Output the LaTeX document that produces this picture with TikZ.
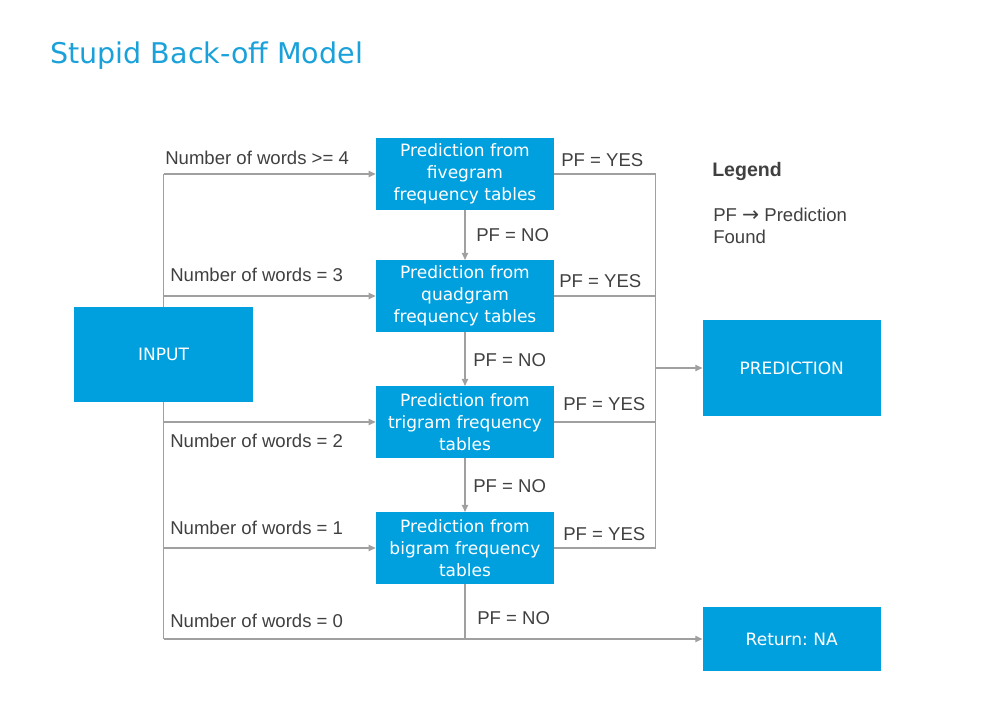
\documentclass[tikz,border=0pt]{standalone}
\usepackage{fontspec}
\setmainfont{Liberation Sans}
\newfontfamily\boxfont{DejaVu Sans}
\usetikzlibrary{arrows.meta}
\definecolor{boxblue}{HTML}{00A0DE}
\definecolor{titleblue}{HTML}{1BA1DA}
\definecolor{linegray}{HTML}{A0A0A0}
\definecolor{textgray}{HTML}{404040}
\frenchspacing

\begin{document}
\begin{tikzpicture}[x=0.025cm,y=-0.025cm,
    blk/.style={fill=boxblue,text=white,inner sep=0pt,align=center,minimum width=4.45cm,minimum height=1.79cm,font=\boxfont\fontsize{12.1}{15.6}\selectfont},
    lnk/.style={draw=linegray,line width=0.8pt},
    arr/.style={lnk,-{Triangle[length=5pt,width=4.5pt]}},
    lbl/.style={anchor=base west,inner sep=0pt,text=textgray,font=\fontsize{13.2}{15.4}\selectfont}]
  \useasboundingbox (0,0) rectangle (1008,720);
  % Title
  \node[anchor=base west,inner sep=0pt,text=titleblue,font=\boxfont\fontsize{20.3}{24}\selectfont] (title) at (50,64) {Stupid Back-off Model};
  % Blocks
  \node[blk,minimum width=4.47cm,minimum height=2.38cm] (input) at (163.5,354.5) {INPUT};
  \node[blk] (five) at (465,174) {Prediction from\\fivegram\\frequency tables};
  \node[blk] (quad) at (465,296) {Prediction from\\quadgram\\frequency tables};
  \node[blk] (tri)  at (465,422) {Prediction from\\trigram frequency\\tables};
  \node[blk] (bi)   at (465,548) {Prediction from\\bigram frequency\\tables};
  \node[blk,minimum height=2.39cm] (pred) at (791.7,368) {PREDICTION};
  \node[blk,minimum height=1.62cm] (na)   at (791.7,639) {Return: NA};
  \coordinate (join) at (655.7,368);
  % Input bus
  \draw[lnk] (input.north) -- (input.north |- five.west);
  \draw[arr] (input.north |- five.west) -- (five.west);
  \draw[arr] (input.north |- quad.west) -- (quad.west);
  \draw[lnk] (input.south) -- (input.south |- na.west);
  \draw[arr] (input.south |- tri.west) -- (tri.west);
  \draw[arr] (input.south |- bi.west) -- (bi.west);
  \draw[arr] (input.south |- na.west) -- (na.west);
  % Back-off chain
  \draw[arr] (five) -- (quad);
  \draw[arr] (quad) -- (tri);
  \draw[arr] (tri) -- (bi);
  \draw[lnk] (bi.south) -- (bi.south |- na.west);
  % Prediction bus
  \draw[lnk] (five.east) -| (join |- bi.east) -- (bi.east);
  \draw[lnk] (quad.east) -- (join |- quad.east);
  \draw[lnk] (tri.east) -- (join |- tri.east);
  \draw[arr] (join) -- (pred.west);
  % Labels
  \node[lbl] (w4) at (165,165) {Number of words >= 4};
  \node[lbl] (w3) at (170,282) {Number of words = 3};
  \node[lbl] (w2) at (170,448) {Number of words = 2};
  \node[lbl] (w1) at (170,535) {Number of words = 1};
  \node[lbl] (w0) at (170,628) {Number of words = 0};
  \node[lbl] (yes5) at (561,167) {PF = YES};
  \node[lbl] (yes4) at (559,288) {PF = YES};
  \node[lbl] (yes3) at (563,411) {PF = YES};
  \node[lbl] (yes2) at (563,541) {PF = YES};
  \node[lbl] (no5) at (476,242) {PF = NO};
  \node[lbl] (no4) at (473,367) {PF = NO};
  \node[lbl] (no3) at (473,493) {PF = NO};
  \node[lbl] (no2) at (477,625) {PF = NO};
  % Legend
  \node[lbl,font=\bfseries\fontsize{13.9}{16}\selectfont] (leg) at (712,177) {Legend};
  \node[lbl] (legpf) at (713,222) {PF {\boxfont\fontsize{14.5}{16}\selectfont →} Prediction};
  \node[lbl] (legfound) at (713,244) {Found};
\end{tikzpicture}
\end{document}
